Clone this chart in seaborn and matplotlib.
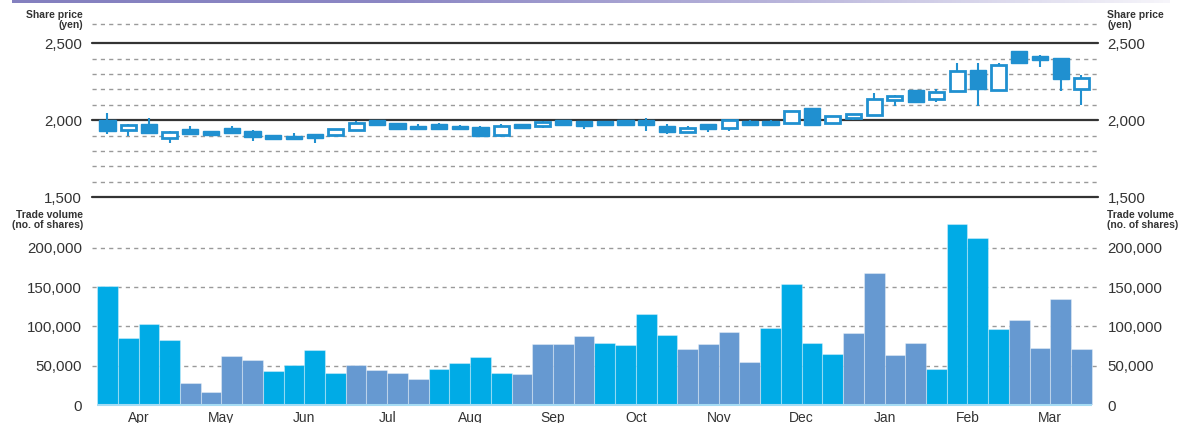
import numpy as np
import pandas as pd
import matplotlib
matplotlib.use('Agg')
import matplotlib.pyplot as plt
import seaborn as sns
from matplotlib.colors import LinearSegmentedColormap

# weekly data, Apr .. Mar (4 weeks per month)
months = ['Apr', 'May', 'Jun', 'Jul', 'Aug', 'Sep', 'Oct', 'Nov', 'Dec', 'Jan', 'Feb', 'Mar']

opens = [2004, 1935, 1974, 1887, 1946, 1928, 1948, 1928, 1907, 1900, 1909, 1902,
         1935, 2004, 1985, 1963, 1974, 1963, 1954, 1902, 1974, 1965, 2004, 1996,
         1996, 2004, 2004, 1963, 1925, 1974, 1952, 1996, 1996, 1983, 2080, 1983,
         2012, 2037, 2130, 2196, 2141, 2191, 2324, 2196, 2450, 2417, 2402, 2200]
closes = [1930, 1972, 1920, 1922, 1911, 1902, 1920, 1891, 1876, 1876, 1883, 1943,
          1983, 1970, 1943, 1943, 1941, 1941, 1900, 1961, 1952, 1991, 1970, 1961,
          1970, 1970, 1970, 1922, 1952, 1941, 2000, 1970, 1970, 2059, 1970, 2028,
          2038, 2137, 2157, 2117, 2185, 2320, 2204, 2361, 2372, 2393, 2265, 2276]
highs = [2050, 1975, 2015, 1930, 1961, 1928, 1961, 1939, 1907, 1915, 1909, 1943,
         1993, 2004, 1985, 1974, 1980, 1972, 1961, 1974, 1974, 1993, 2004, 1996,
         1996, 2004, 2015, 1974, 1961, 1974, 2000, 2004, 2004, 2059, 2080, 2028,
         2041, 2174, 2167, 2196, 2200, 2374, 2374, 2374, 2450, 2424, 2402, 2293]
lows = [1913, 1896, 1909, 1852, 1911, 1898, 1916, 1865, 1876, 1876, 1854, 1902,
        1935, 1961, 1943, 1943, 1941, 1941, 1891, 1891, 1952, 1950, 1970, 1941,
        1970, 1970, 1930, 1911, 1922, 1924, 1933, 1970, 1970, 1983, 1963, 1974,
        2005, 2030, 2091, 2111, 2120, 2191, 2091, 2191, 2372, 2346, 2189, 2096]

volumes = [151000, 85600, 102500, 82200, 27500, 16500, 62300, 57200,
           43200, 50400, 69500, 40700, 50400, 44500, 40300, 33000,
           46200, 53400, 60600, 40300, 39000, 77100, 77100, 87700,
           78400, 75800, 115300, 89400, 70800, 77500, 92400, 55100,
           97500, 153400, 78400, 65300, 91100, 167800, 63600, 78800,
           46200, 230000, 211900, 96200, 108500, 72900, 135200, 71600]

price_ticks = [1500, 2000, 2500]
price_dashed = [1600, 1700, 1800, 1900, 2100, 2200, 2300, 2400, 2625]
vol_ticks = [0, 50000, 100000, 150000, 200000]

CYAN = '#00abe6'
STEEL = '#6699d1'
CANDLE = '#2090d0'
TEXT = '#333333'

sns.set_theme(style='white')
plt.rcParams['font.family'] = ['Liberation Sans', 'DejaVu Sans']

W, H = 1179, 423
fig = plt.figure(figsize=(W / 100, H / 100), dpi=100)

left = 91.7 / W
width = (1098 - 91.7) / W
ax1 = fig.add_axes([left, (H - 197.3) / H, width, (197.3 - 24) / H])
ax2 = fig.add_axes([left, (H - 405) / H, width, (405 - 208.35) / H])

n = len(opens)
x = np.arange(n)
xlim = (-0.76, n - 0.2)

# ---- share price candles ----
for y in price_dashed:
    ax1.axhline(y, color='#9a9a9a', lw=1.0, ls=(0, (3, 3)), zorder=0, clip_on=False)
for y in price_ticks:
    ax1.axhline(y, color='#333333', lw=1.6, zorder=0, clip_on=False)

o = np.array(opens)
c = np.array(closes)
up = c >= o
ax1.vlines(x, lows, highs, color=CANDLE, lw=1.5, zorder=2)
bottoms = np.minimum(o, c)
heights = np.abs(c - o)
ax1.bar(x[~up], heights[~up], bottom=bottoms[~up], width=0.78,
        color=CANDLE, edgecolor=CANDLE, lw=1.0, zorder=3)
ax1.bar(x[up], heights[up], bottom=bottoms[up], width=0.72,
        color='white', edgecolor=CANDLE, lw=2.0, zorder=3)

ax1.set_xlim(xlim)
ax1.set_ylim(1500, 2625)
ax1.set_xticks([])
ax1.set_yticks(price_ticks)
ax1.set_yticklabels([f'{v:,}' for v in price_ticks])
ax1.tick_params(axis='y', length=0, labelsize=10.8, labelcolor=TEXT, pad=7,
                labelleft=True, labelright=True)
for s in ax1.spines.values():
    s.set_visible(False)

# ---- trade volume bars ----
for y in vol_ticks[1:]:
    ax2.axhline(y, color='#9a9a9a', lw=1.0, ls=(0, (3, 3)), zorder=0, clip_on=False)

df = pd.DataFrame({'week': x, 'volume': volumes,
                   'group': ['a' if (i // 4) % 2 == 0 else 'b' for i in x]})
sns.barplot(data=df, x='week', y='volume', hue='group', dodge=False,
            palette={'a': CYAN, 'b': STEEL}, width=1.0, legend=False,
            edgecolor=(1, 1, 1, 0.35), linewidth=0.8, saturation=1, ax=ax2, zorder=2)
ax2.hlines(0, -0.5, n - 0.5, color='#a6dcf4', lw=1.5, zorder=3, clip_on=False)

ax2.set_xlim(xlim)
ax2.set_ylim(0, 250000)
ax2.set_xlabel('')
ax2.set_ylabel('')
ax2.set_xticks([4 * i + 1.5 for i in range(len(months))])
ax2.set_xticklabels(months)
ax2.set_yticks(vol_ticks)
ax2.set_yticklabels([f'{v:,}' for v in vol_ticks])
ax2.tick_params(axis='y', length=0, labelsize=10.8, labelcolor=TEXT, pad=7,
                labelleft=True, labelright=True)
ax2.tick_params(axis='x', length=0, labelsize=10, labelcolor=TEXT, pad=4)
for s in ax2.spines.values():
    s.set_visible(False)

# axis titles on both sides
for xp, ha in [(83 / W, 'right'), (1107 / W, 'left')]:
    fig.text(xp, 1 - 10 / H, 'Share price\n(yen)', ha=ha, va='top', fontsize=7.5,
             fontweight='bold', color=TEXT, linespacing=1.0)
    fig.text(xp, 1 - 210 / H, 'Trade volume\n(no. of shares)', ha=ha, va='top',
             fontsize=7.5, fontweight='bold', color=TEXT, linespacing=1.0)

# purple band along the top edge
band = fig.add_axes([12 / W, 1 - 3 / H, 1158 / W, 3 / H])
cmap = LinearSegmentedColormap.from_list('band', ['#8480bf', '#8c87c4', '#b9b5db', '#f6f5fa'])
band.imshow(np.linspace(0, 1, 256)[None, :], aspect='auto', cmap=cmap)
band.axis('off')

fig.savefig('out.png', dpi=100)
